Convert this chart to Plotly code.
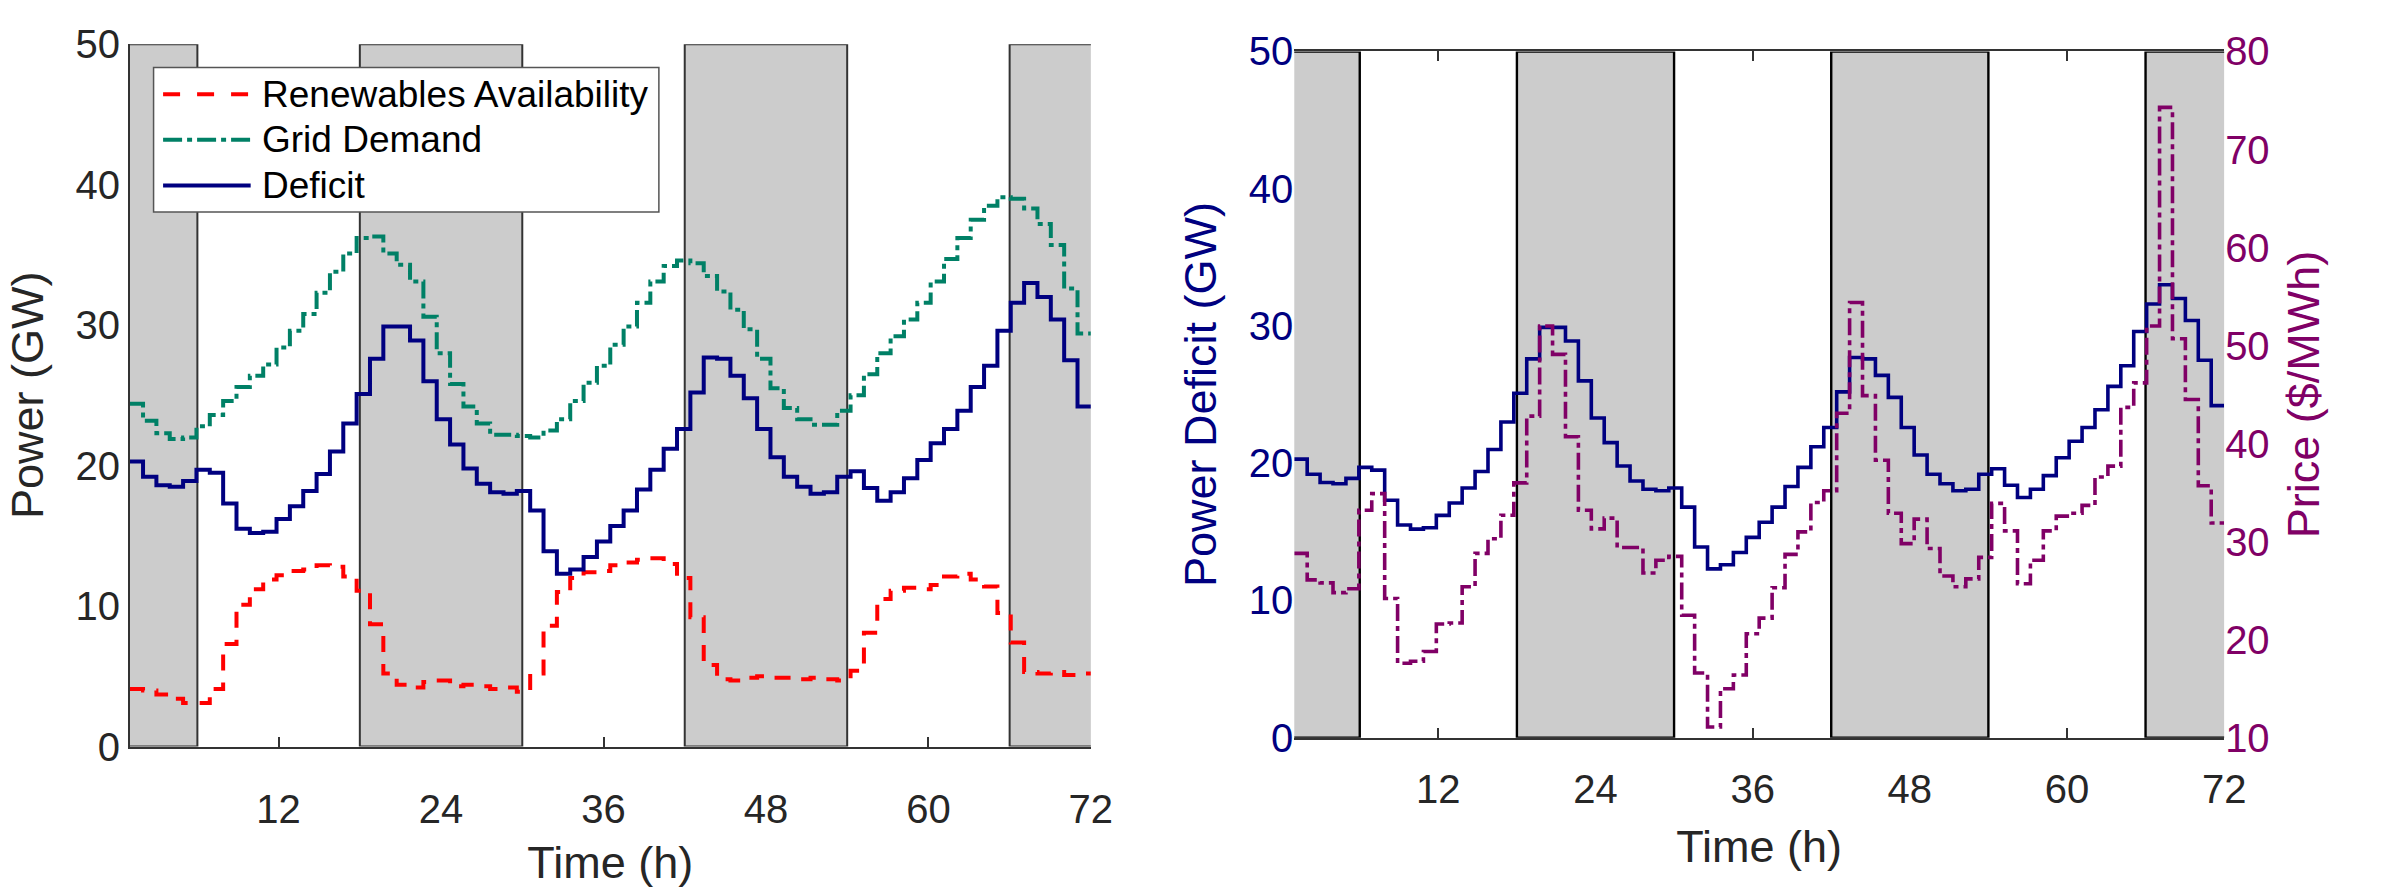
import numpy as np
import plotly.graph_objects as go

# ---------------- data (hourly steps, 72 intervals) ----------------
renewables = [4.1, 4.0, 3.7, 3.4, 3.1, 3.1, 4.1, 7.3, 10.1, 11.2,
              11.9, 12.2, 12.5, 12.6, 12.9, 12.8, 12.1, 11.1, 8.7, 5.2,
              4.4, 4.2, 4.6, 4.7, 4.3, 4.4, 4.3, 4.1, 4.2, 3.9,
              5.2, 8.6, 11.0, 12.0, 12.4, 12.5, 12.9, 13.1, 13.3, 13.4,
              13.0, 12.0, 9.2, 5.8, 4.8, 4.7, 4.9, 5.0, 4.9, 4.9,
              4.8, 4.9, 4.8, 4.7, 5.4, 8.1, 10.5, 11.1, 11.3, 11.2,
              11.5, 12.1, 12.3, 11.9, 11.4, 9.5, 7.4, 5.3, 5.2, 5.3, 5.1, 5.2]
grid_demand = [24.4, 23.2, 22.3, 21.9, 22.0, 22.8, 23.6, 24.6, 25.6, 26.4,
               27.2, 28.4, 29.6, 30.8, 32.3, 33.8, 35.1, 36.2, 36.3, 35.1,
               34.3, 33.1, 30.6, 28.0, 25.8, 24.2, 23.0, 22.2, 22.2, 22.1,
               22.0, 22.5, 23.3, 24.6, 25.9, 27.1, 28.6, 29.9, 31.6, 33.1,
               34.2, 34.6, 34.4, 33.5, 32.4, 31.1, 29.7, 27.6, 25.5, 24.1,
               23.3, 22.9, 22.9, 23.9, 25.0, 26.5, 28.0, 29.2, 30.4, 31.6,
               33.1, 34.7, 36.2, 37.5, 38.5, 39.1, 39.0, 38.3, 37.2, 35.7, 32.6, 29.4]
deficit = [20.3, 19.2, 18.6, 18.5, 18.9, 19.7, 19.5, 17.3, 15.5, 15.2,
           15.3, 16.2, 17.1, 18.2, 19.4, 21.0, 23.0, 25.1, 27.6, 29.9,
           29.9, 28.9, 26.0, 23.3, 21.5, 19.8, 18.7, 18.1, 18.0, 18.2,
           16.8, 13.9, 12.3, 12.6, 13.5, 14.6, 15.7, 16.8, 18.3, 19.7,
           21.2, 22.6, 25.2, 27.7, 27.6, 26.4, 24.8, 22.6, 20.6, 19.2,
           18.5, 18.0, 18.1, 19.2, 19.6, 18.4, 17.5, 18.1, 19.1, 20.4,
           21.6, 22.6, 23.9, 25.6, 27.1, 29.6, 31.6, 33.0, 32.0, 30.4, 27.5, 24.2]
price = [28.8, 26.1, 25.8, 24.8, 25.2, 33.2, 34.9, 24.2, 17.6, 17.8,
         18.8, 21.6, 21.7, 25.4, 28.8, 30.3, 32.7, 36.0, 42.8, 52.0,
         49.1, 40.7, 33.2, 31.3, 32.4, 29.4, 29.4, 26.8, 28.1, 28.5,
         22.5, 16.6, 11.1, 15.0, 16.4, 20.6, 22.2, 25.3, 28.7, 31.0,
         34.0, 35.2, 43.1, 54.4, 44.9, 38.3, 32.9, 29.8, 32.3, 29.3,
         26.5, 25.4, 26.2, 28.4, 33.9, 31.1, 25.7, 28.1, 31.1, 32.6,
         32.9, 33.7, 36.6, 37.7, 43.7, 46.2, 52.0, 74.3, 50.7, 44.5, 35.7, 31.9]

night_start = [-6, 18, 42, 66]
night_end = [6, 30, 54, 78]

x_ticks = [12, 24, 36, 48, 60, 72]
power_ticks = [0, 10, 20, 30, 40, 50]
price_ticks = [10, 20, 30, 40, 50, 60, 70, 80]

series_names = ["Renewables Availability", "Grid Demand", "Deficit"]

# step edges spanning the 1..72 h axis
t_edges = np.linspace(1, 72, len(deficit) + 1)


def stairs(v):
    return list(v) + [v[-1]]


# ---------------- style ----------------
W, H = 2389, 889
FONT = "Liberation Sans, Arial, Helvetica, sans-serif"
RED = "#FF0000"
TEAL = "#008066"
NAVY = "#000080"
PURPLE = "#800066"
TXT = "#262626"
SHADE = "#CCCCCC"

xL = [130.9 / W, 1101.0 / W]
yL = [1 - 762.3 / H, 1 - 23.3 / H]
xR = [1306.3 / W, 2244.8 / W]
yR = [1 - 753.0 / H, 1 - 31.0 / H]

fig = go.Figure()

# left panel
fig.add_trace(go.Scatter(x=t_edges, y=stairs(renewables), mode="lines", line_shape="hv",
                         line=dict(color=RED, width=4, dash="16px,12px"),
                         name=series_names[0], xaxis="x", yaxis="y"))
fig.add_trace(go.Scatter(x=t_edges, y=stairs(grid_demand), mode="lines", line_shape="hv",
                         line=dict(color=TEAL, width=4, dash="17px,5px,5px,5px"),
                         name=series_names[1], xaxis="x", yaxis="y"))
fig.add_trace(go.Scatter(x=t_edges, y=stairs(deficit), mode="lines", line_shape="hv",
                         line=dict(color=NAVY, width=4),
                         name=series_names[2], xaxis="x", yaxis="y"))

# right panel
fig.add_trace(go.Scatter(x=t_edges, y=stairs(deficit), mode="lines", line_shape="hv",
                         line=dict(color=NAVY, width=3.6),
                         name="Power Deficit", xaxis="x2", yaxis="y2"))
fig.add_trace(go.Scatter(x=t_edges, y=stairs(price), mode="lines", line_shape="hv",
                         line=dict(color=PURPLE, width=3.6, dash="17px,5px,5px,5px"),
                         name="Price", xaxis="x2", yaxis="y3"))

# empty traces so the tick-only overlay axes are drawn
for xa, ya in [("x3", "y"), ("x4", "y2"), ("x5", "y2")]:
    fig.add_trace(go.Scatter(x=[None], y=[None], xaxis=xa, yaxis=ya,
                             showlegend=False, hoverinfo="skip"))

# night shading
for s, e in zip(night_start, night_end):
    fig.add_shape(type="rect", xref="x", yref="y", x0=s, x1=e, y0=0, y1=50,
                  fillcolor=SHADE, line=dict(color="#333333", width=2), layer="below")
    fig.add_shape(type="rect", xref="x2", yref="y2", x0=s, x1=e, y0=0, y1=50,
                  fillcolor=SHADE, line=dict(color="#000000", width=2.4), layer="below")

tickfont = dict(family=FONT, size=40, color=TXT)
titlefont = dict(family=FONT, size=45, color=TXT)

fig.update_layout(
    width=W, height=H, margin=dict(l=0, r=0, t=0, b=0),
    plot_bgcolor="white", paper_bgcolor="white", showlegend=False,
    font=dict(family=FONT, color=TXT),
    xaxis=dict(domain=xL, anchor="y", range=[1, 72], tickvals=x_ticks, ticks="",
               showline=True, linecolor="#333333", linewidth=1.5, showgrid=False,
               zeroline=False, tickfont=tickfont, ticklabelstandoff=27,
               title=dict(text="Time (h)", font=titlefont, standoff=16)),
    yaxis=dict(domain=yL, anchor="x", range=[0, 50], tickvals=power_ticks, ticks="",
               showline=True, linecolor="#333333", linewidth=1.5, showgrid=False,
               zeroline=False, tickfont=tickfont,
               title=dict(text="Power (GW)", font=titlefont, standoff=18)),
    xaxis3=dict(overlaying="x", anchor="y", range=[1, 72], tickvals=[12, 36, 60, 72],
                ticks="inside", ticklen=10, tickwidth=1.5, tickcolor="#333333",
                showticklabels=False, showline=False, showgrid=False, zeroline=False),
    xaxis2=dict(domain=xR, anchor="y2", range=[1, 72], tickvals=x_ticks, ticks="",
                showline=True, mirror=True, linecolor="#333333", linewidth=1.5,
                showgrid=False, zeroline=False, tickfont=tickfont, ticklabelstandoff=16,
                title=dict(text="Time (h)", font=titlefont, standoff=20)),
    yaxis2=dict(domain=yR, anchor="x2", range=[0, 50], tickvals=power_ticks, ticks="",
                showline=False, showgrid=False, zeroline=False,
                tickfont=dict(family=FONT, size=40, color=NAVY),
                title=dict(text="Power Deficit (GW)", font=dict(family=FONT, size=45, color=NAVY),
                           standoff=18)),
    yaxis3=dict(overlaying="y2", anchor="x2", side="right", range=[10, 80],
                tickvals=price_ticks, ticks="", showline=False, showgrid=False,
                zeroline=False, tickfont=dict(family=FONT, size=40, color=PURPLE),
                title=dict(text="Price ($/MWh)", font=dict(family=FONT, size=45, color=PURPLE),
                           standoff=18)),
    xaxis4=dict(overlaying="x2", anchor="y2", range=[1, 72], tickvals=[12, 36, 60],
                ticks="inside", ticklen=10, tickwidth=1.5, tickcolor="#333333",
                showticklabels=False, showline=False, showgrid=False, zeroline=False),
    xaxis5=dict(overlaying="x2", anchor="y2", side="top", range=[1, 72], tickvals=[12, 36, 60],
                ticks="inside", ticklen=10, tickwidth=1.5, tickcolor="#333333",
                showticklabels=False, showline=False, showgrid=False, zeroline=False),
)

# legend box (manual, MATLAB style)
lx0, lx1, ly0, ly1 = 155 / W, 665 / W, 1 - 200 / H, 1 - 48 / H
fig.add_shape(type="rect", xref="paper", yref="paper", x0=lx0, x1=lx1, y0=ly0, y1=ly1,
              fillcolor="white", line=dict(color="#555555", width=1.5), layer="above")
leg_styles = [dict(color=RED, width=4, dash="17px,17px"),
              dict(color=TEAL, width=4, dash="19px,5px,5px,5px"),
              dict(color=NAVY, width=4)]
row_y = [1 - 76 / H, 1 - 124 / H, 1 - 172 / H]
for name, st, yy in zip(series_names, leg_styles, row_y):
    fig.add_shape(type="line", xref="paper", yref="paper", x0=164.6 / W, x1=253 / W,
                  y0=yy, y1=yy, line=st, layer="above")
    fig.add_annotation(xref="paper", yref="paper", x=262 / W, y=yy, text=name,
                       showarrow=False, xanchor="left", yanchor="middle",
                       font=dict(family=FONT, size=37, color="#000000"))

fig.write_html("out.html")
